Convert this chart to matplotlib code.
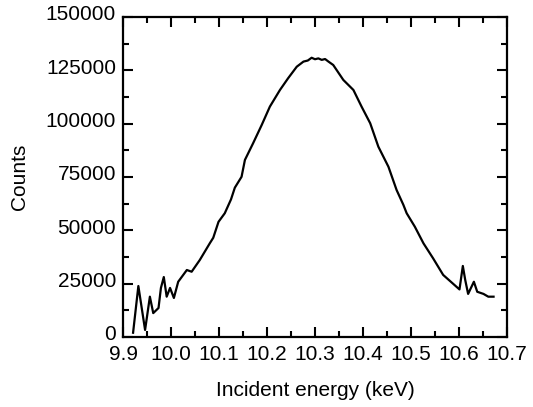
import matplotlib
matplotlib.use("Agg")
import matplotlib.pyplot as plt
import matplotlib.transforms as mtransforms
from matplotlib.ticker import MultipleLocator

energy = [9.921, 9.932, 9.946, 9.956, 9.963, 9.974, 9.979, 9.985, 9.991, 9.998,
          10.006, 10.015, 10.033, 10.043, 10.060, 10.081, 10.088, 10.099, 10.112,
          10.125, 10.133, 10.147, 10.154, 10.171, 10.189, 10.206, 10.227, 10.244,
          10.262, 10.276, 10.285, 10.293, 10.300, 10.307, 10.314, 10.321, 10.328,
          10.338, 10.359, 10.380, 10.397, 10.415, 10.432, 10.453, 10.470, 10.484,
          10.491, 10.508, 10.526, 10.546, 10.567, 10.585, 10.601, 10.608, 10.613,
          10.619, 10.631, 10.638, 10.651, 10.661, 10.672]
counts = [2000, 23900, 3300, 18900, 11200, 13600, 23000, 28100, 18900, 23000,
          18300, 25900, 31400, 30600, 36100, 44000, 46500, 54000, 58000,
          64500, 70000, 75100, 83000, 90800, 99400, 108000, 115800, 121300,
          126700, 129100, 129600, 130900, 130200, 130600, 129900, 130300, 129100,
          127500, 120500, 115800, 108000, 100200, 89200, 79800, 68900, 62000,
          58000, 51700, 43900, 36900, 29100, 25500, 22300, 33300, 26700,
          20200, 25900, 21200, 20200, 18900, 18900]

x_ticks = [9.9, 10.0, 10.1, 10.2, 10.3, 10.4, 10.5, 10.6, 10.7]
x_tick_labels = ["9.9", "10.0", "10.1", "10.2", "10.3", "10.4", "10.5", "10.6", "10.7"]
y_ticks = [0, 25000, 50000, 75000, 100000, 125000, 150000]

plt.rcParams['font.family'] = ['Liberation Sans', 'DejaVu Sans']

fig = plt.figure(figsize=(5.33, 4.07), dpi=100)
ax = fig.add_axes([123/533, 70/407, 384/533, 320/407])
ax.plot(energy, counts, color='black', linewidth=1.6)
ax.set_xlim(9.9, 10.7)
ax.set_ylim(0, 150000)
ax.set_xticks(x_ticks)
ax.set_xticklabels(x_tick_labels)
ax.set_yticks(y_ticks)
ax.set_yticklabels([str(v) for v in y_ticks])
ax.xaxis.set_minor_locator(MultipleLocator(0.05))
ax.yaxis.set_minor_locator(MultipleLocator(12500))
ax.tick_params(which='both', direction='in', top=True, right=True, width=1.5,
               labelsize=15, colors='black')
ax.tick_params(which='major', length=7)
ax.tick_params(axis='x', which='major', pad=6)
ax.tick_params(axis='y', which='major', pad=5)
ax.tick_params(which='minor', length=4)
for s in ax.spines.values():
    s.set_linewidth(1.6)

shift = mtransforms.ScaledTranslation(0, 4/100, fig.dpi_scale_trans)
for lbl in ax.get_yticklabels():
    lbl.set_transform(lbl.get_transform() + shift)

ax.set_xlabel("Incident energy (keV)", fontsize=15, labelpad=12)
ax.set_ylabel("Counts", fontsize=15, labelpad=12)
fig.savefig("out.png", dpi=100)
